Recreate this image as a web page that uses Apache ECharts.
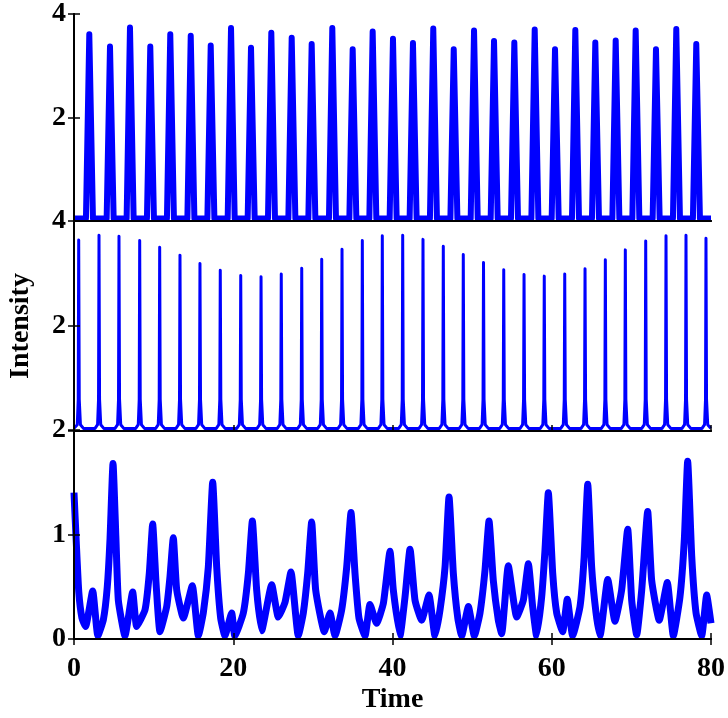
<!DOCTYPE html>
<html>
<head>
<meta charset="utf-8">
<script src="https://cdn.jsdelivr.net/npm/echarts@6/dist/echarts.min.js"></script>
<style>
html,body{margin:0;padding:0;background:#fff;}
#chart{width:728px;height:718px;}
</style>
</head>
<body>
<div id="chart"></div>
<script>
// ---- data ----
const xTicks = [0, 20, 40, 60, 80];
const topYTicks = [0, 2, 4];
const midYTicks = [0, 2, 4];
const botYTicks = [0, 1, 2];

const topPeakTime = [1.92,4.52,7.03,9.58,12.09,14.66,17.17,19.72,22.23,24.78,27.34,29.85,32.44,35.00,37.51,40.06,42.57,45.12,47.69,50.24,52.75,55.30,57.86,60.41,62.96,65.47,68.03,70.54,73.09,75.64,78.15];
const topPeakValue = [3.61,3.37,3.74,3.37,3.61,3.58,3.39,3.73,3.35,3.64,3.54,3.42,3.73,3.32,3.66,3.52,3.44,3.72,3.32,3.68,3.48,3.45,3.70,3.32,3.69,3.45,3.49,3.68,3.32,3.71,3.42];
const topBaseline = 0.05;

const midPeakTime = [0.59,3.14,5.65,8.25,10.76,13.31,15.82,18.37,20.94,23.49,26.03,28.60,31.11,33.66,36.21,38.72,41.28,43.83,46.38,48.89,51.43,53.97,56.52,59.06,61.63,64.18,66.73,69.24,71.80,74.35,76.86,79.37];
const midPeakValue = [3.64,3.73,3.71,3.63,3.50,3.35,3.19,3.06,2.96,2.94,2.99,3.10,3.27,3.46,3.63,3.72,3.73,3.65,3.52,3.36,3.21,3.07,2.98,2.95,2.99,3.09,3.26,3.45,3.62,3.72,3.73,3.67];
const midBaseline = 0.05;

const botTime = [0.0,0.3,0.6,1.0,1.45,2.35,3.0,3.68,4.18,4.52,4.9,5.27,5.57,6.4,7.37,7.87,8.92,9.46,9.88,10.3,10.8,11.64,12.06,12.47,12.9,13.73,14.86,15.62,16.24,16.87,17.42,17.92,18.42,18.96,19.8,20.2,21.27,21.9,22.4,22.94,23.57,24.83,25.66,26.5,27.25,28.17,28.8,29.35,29.85,30.35,31.44,32.15,32.78,33.62,34.25,34.79,35.29,35.79,36.55,37.17,38.0,38.85,39.69,40.1,40.94,41.57,42.2,42.83,43.66,44.58,45.34,45.97,46.6,47.1,47.64,48.2,48.69,49.53,50.28,50.99,51.62,52.12,52.66,53.29,53.71,54.54,55.6,56.43,57.06,57.6,58.1,58.73,59.15,59.57,60.12,60.62,61.37,61.95,62.63,63.55,64.05,64.52,65.01,65.56,66.06,67.03,67.94,68.78,69.54,70.04,70.67,71.3,72.05,72.55,73.5,74.51,75.27,76.1,76.65,77.07,77.58,78.12,78.83,79.46,80.0];
const botValue = [1.40,0.90,0.45,0.20,0.12,0.46,0.03,0.18,0.50,0.95,1.68,0.95,0.37,0.03,0.45,0.12,0.28,0.63,1.10,0.54,0.07,0.31,0.60,0.97,0.47,0.20,0.51,0.03,0.25,0.69,1.50,0.69,0.20,0.03,0.25,0.03,0.25,0.63,1.13,0.47,0.08,0.52,0.21,0.35,0.64,0.03,0.25,0.63,1.12,0.47,0.07,0.25,0.03,0.28,0.69,1.21,0.63,0.20,0.03,0.33,0.15,0.34,0.84,0.47,0.03,0.40,0.86,0.37,0.18,0.42,0.03,0.28,0.69,1.36,0.63,0.20,0.03,0.31,0.03,0.25,0.66,1.13,0.56,0.18,0.05,0.70,0.21,0.37,0.72,0.31,0.03,0.40,0.85,1.40,0.63,0.25,0.07,0.38,0.03,0.31,0.76,1.48,0.69,0.25,0.03,0.57,0.17,0.47,1.05,0.37,0.04,0.47,1.22,0.56,0.18,0.54,0.03,0.40,0.95,1.70,0.79,0.25,0.03,0.42,0.15];

// ---- build series data ----
function topSeries() {
  const d = [[0, topBaseline]];
  topPeakTime.forEach((t, i) => {
    d.push([t - 0.42, topBaseline], [t, topPeakValue[i]], [t + 0.46, topBaseline]);
  });
  d.push([80, topBaseline]);
  return d;
}
function midSeries() {
  const d = [[0, midBaseline]];
  midPeakTime.forEach((t, i) => {
    const v = midPeakValue[i];
    d.push([t - 0.5, midBaseline], [t - 0.18, 0.12], [t - 0.06, 0.6], [t, v],
           [t + 0.07, 0.6], [t + 0.22, 0.12], [t + 0.6, midBaseline]);
  });
  return d;
}
const botData = botTime.map((t, i) => [t, botValue[i]]);

const FONT = 'Liberation Serif';
const grids = [
  {left: 74, top: 13, width: 637, height: 208},
  {left: 74, top: 221, width: 637, height: 210},
  {left: 74, top: 430, width: 637, height: 209}
];
const axisLine = {show: true, lineStyle: {color: '#000', width: 2}};

function xAxes(gi, showLabels, bottomTicks, topTicks) {
  return [
    {type: 'value', gridIndex: gi, position: 'bottom', min: xTicks[0], max: xTicks[xTicks.length - 1], interval: xTicks[1] - xTicks[0],
     axisLine, z: 5,
     axisTick: {show: bottomTicks, inside: true, length: 6, lineStyle: {color: '#000', width: 1.5}},
     axisLabel: {show: showLabels, fontFamily: FONT, fontWeight: 'bold', fontSize: 28, color: '#000', margin: 16},
     splitLine: {show: false}},
    {type: 'value', gridIndex: gi, position: 'top', min: xTicks[0], max: xTicks[xTicks.length - 1], interval: xTicks[1] - xTicks[0],
     axisLine, z: 5,
     axisTick: {show: topTicks, inside: true, length: 6, lineStyle: {color: '#000', width: 1.5}},
     axisLabel: {show: false}, splitLine: {show: false}}
  ];
}
function yAxes(gi, ticks, hideMin) {
  const min = ticks[0], max = ticks[ticks.length - 1], iv = ticks[1] - ticks[0];
  return [
    {type: 'value', gridIndex: gi, position: 'left', min, max, interval: iv, axisLine, z: 5,
     axisTick: {show: true, inside: true, length: 6, lineStyle: {color: '#000', width: 1.5}},
     axisLabel: {show: true, fontFamily: FONT, fontWeight: 'bold', fontSize: 28, color: '#000', margin: 8,
                 formatter: v => (hideMin && v === min) ? '' : String(v)},
     splitLine: {show: false}},
    {type: 'value', gridIndex: gi, position: 'right', min, max, interval: iv, axisLine, z: 5,
     axisTick: {show: true, inside: true, length: 6, lineStyle: {color: '#000', width: 1.5}},
     axisLabel: {show: false}, splitLine: {show: false}}
  ];
}

const option = {
  backgroundColor: '#fff',
  animation: false,
  grid: grids,
  xAxis: [...xAxes(0, false, false, false), ...xAxes(1, false, true, false), ...xAxes(2, true, true, true)],
  yAxis: [...yAxes(0, topYTicks, true), ...yAxes(1, midYTicks, true), ...yAxes(2, botYTicks, false)],
  series: [
    {type: 'line', xAxisIndex: 0, yAxisIndex: 0, data: topSeries(), showSymbol: false, symbol: 'none',
     lineStyle: {color: '#0000ff', width: 6, cap: 'butt', join: 'round'}},
    {type: 'line', xAxisIndex: 2, yAxisIndex: 2, data: midSeries(), showSymbol: false, symbol: 'none',
     lineStyle: {color: '#0000ff', width: 3, cap: 'butt', join: 'round'}},
    {type: 'line', xAxisIndex: 4, yAxisIndex: 4, data: botData, showSymbol: false, symbol: 'none',
     smooth: 0.15,
     lineStyle: {color: '#0000ff', width: 7, cap: 'butt', join: 'round'}}
  ],
  graphic: [
    {type: 'text', x: 392.5, y: 700, style: {text: 'Time', fontFamily: FONT, fontWeight: 'bold', fontSize: 28, fill: '#000', align: 'center', verticalAlign: 'middle'}},
    {type: 'text', x: 21, y: 326, rotation: Math.PI / 2, style: {text: 'Intensity', fontFamily: FONT, fontWeight: 'bold', fontSize: 28, fill: '#000', align: 'center', verticalAlign: 'middle'}}
  ]
};

const chart = echarts.init(document.getElementById('chart'), null, {renderer: 'canvas'});
chart.setOption(option);
</script>
</body>
</html>
